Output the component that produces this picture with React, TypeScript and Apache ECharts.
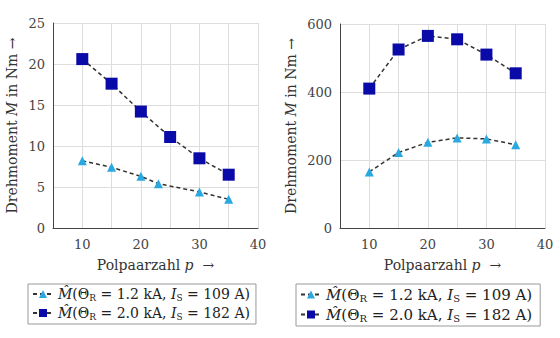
import React, { useEffect, useRef } from "react";
import * as echarts from "echarts";

const pLeftTri = [10, 15, 20, 23, 30, 35];
const mLeftTri = [8.2, 7.4, 6.3, 5.4, 4.4, 3.5];
const pLeftSq = [10, 15, 20, 25, 30, 35];
const mLeftSq = [20.6, 17.6, 14.2, 11.1, 8.5, 6.5];

const pRight = [10, 15, 20, 25, 30, 35];
const mRightTri = [165, 222, 252, 265, 262, 245];
const mRightSq = [410, 525, 565, 555, 510, 455];

const nameTri = "tri";
const nameSq = "sq";
const legendLabels: Record<string, string> = {
  tri: "{m|M̂}{n|(Θ}{s|R}{n| = 1.2 kA, }{i|I}{s|S}{n| = 109 A)}",
  sq: "{m|M̂}{n|(Θ}{s|R}{n| = 2.0 kA, }{i|I}{s|S}{n| = 182 A)}",
};

const FONT = "DejaVu Serif";
const TRI_COLOR = "#2aa9e0";
const SQ_COLOR = "#0a0aa8";

export default function App() {
  const ref = useRef<HTMLDivElement>(null);
  useEffect(() => {
    if (!ref.current) return;
    const chart = echarts.init(ref.current, undefined, { renderer: "svg" });
    const zip = (xs: number[], ys: number[]) => xs.map((x, i) => [x, ys[i]]);
    const nameRich = {
      i: { fontFamily: FONT, fontSize: 14, fontStyle: "italic", color: "#333" },
    };
    const axisCommon = {
      axisLine: { show: true, lineStyle: { color: "#444", width: 1 } },
      axisTick: { show: false },
      axisLabel: { color: "#444", fontFamily: FONT, fontSize: 13 },
      splitLine: { show: true, lineStyle: { color: "#ddd", width: 1 } },
      nameTextStyle: { color: "#333", fontFamily: FONT, fontSize: 14, rich: nameRich },
    };
    const makeRich = (fs: number) => ({
      m: { fontFamily: FONT, fontSize: fs, fontStyle: "italic", color: "#222" },
      n: { fontFamily: FONT, fontSize: fs, color: "#222" },
      i: { fontFamily: FONT, fontSize: fs, fontStyle: "italic", color: "#222" },
      s: { fontFamily: FONT, fontSize: fs - 5, color: "#222", padding: [7, 0, 0, 0] },
    });
    const legendCommon = {
      orient: "vertical",
      top: 284,
      itemWidth: 20,
      itemHeight: 10,
      itemGap: 4,
      borderColor: "#999",
      borderWidth: 1,
      formatter: (n: string) => legendLabels[n],
      data: [nameTri, nameSq],
    };
    const lineStyle = { color: "#333", type: [4, 3] as any, width: 1.5 };
    chart.setOption({
      animation: false,
      grid: [
        { left: 53, right: 302, top: 23, bottom: 110 },
        { left: 340, right: 15, top: 24, bottom: 110 },
      ],
      xAxis: [0, 1].map((g) => ({
        ...axisCommon,
        type: "value",
        gridIndex: g,
        min: 5,
        max: 40,
        interval: 5,
        axisLabel: {
          ...axisCommon.axisLabel,
          margin: 10,
          formatter: (v: number) => (v % 10 === 0 ? String(v) : ""),
        },
        name: "Polpaarzahl {i|p}  →",
        nameLocation: "middle",
        nameGap: 30,
      })),
      yAxis: [
        {
          ...axisCommon,
          type: "value",
          gridIndex: 0,
          min: 0,
          max: 25,
          interval: 5,
          name: "Drehmoment {i|M} in Nm →",
          nameLocation: "middle",
          nameGap: 34,
        },
        {
          ...axisCommon,
          type: "value",
          gridIndex: 1,
          min: 0,
          max: 600,
          interval: 200,
          name: "Drehmoment {i|M} in Nm →",
          nameLocation: "middle",
          nameGap: 42,
        },
      ],
      legend: [
        {
          ...legendCommon, left: 28, padding: [3, 6, 3, 4],
          textStyle: { fontFamily: FONT, fontSize: 14, color: "#222", rich: makeRich(14) },
        },
        {
          ...legendCommon, left: 296, padding: [3, 8, 3, 4],
          textStyle: { fontFamily: FONT, fontSize: 15, color: "#222", rich: makeRich(15) },
        },
      ],
      series: [
        {
          name: nameTri, type: "line", xAxisIndex: 0, yAxisIndex: 0,
          data: zip(pLeftTri, mLeftTri), symbol: "triangle", symbolSize: 9,
          itemStyle: { color: TRI_COLOR }, lineStyle,
        },
        {
          name: nameSq, type: "line", xAxisIndex: 0, yAxisIndex: 0,
          data: zip(pLeftSq, mLeftSq), symbol: "rect", symbolSize: 12,
          itemStyle: { color: SQ_COLOR }, lineStyle,
        },
        {
          name: nameTri, type: "line", xAxisIndex: 1, yAxisIndex: 1,
          data: zip(pRight, mRightTri), symbol: "triangle", symbolSize: 9,
          itemStyle: { color: TRI_COLOR }, lineStyle,
        },
        {
          name: nameSq, type: "line", xAxisIndex: 1, yAxisIndex: 1,
          data: zip(pRight, mRightSq), symbol: "rect", symbolSize: 12,
          itemStyle: { color: SQ_COLOR }, lineStyle,
        },
      ],
    });
    return () => chart.dispose();
  }, []);
  return <div ref={ref} style={{ width: 560, height: 338, position: "absolute", left: 0, top: 0 }} />;
}
